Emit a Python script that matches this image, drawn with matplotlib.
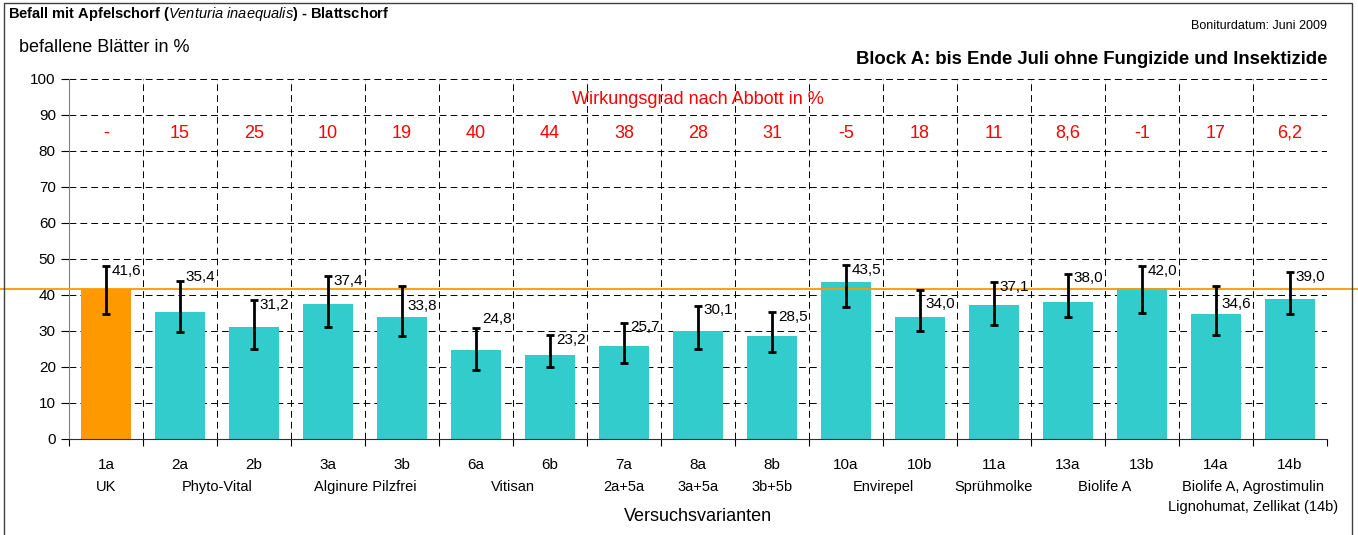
import matplotlib
matplotlib.use("Agg")
import matplotlib.pyplot as plt
from matplotlib.patches import Rectangle
import numpy as np

variants = ['1a', '2a', '2b', '3a', '3b', '6a', '6b', '7a', '8a', '8b',
            '10a', '10b', '11a', '13a', '13b', '14a', '14b']
befall = [41.6, 35.4, 31.2, 37.4, 33.8, 24.8, 23.2, 25.7, 30.1, 28.5,
          43.5, 34.0, 37.1, 38.0, 42.0, 34.6, 39.0]
err_hi = [48.1, 44.0, 38.6, 45.2, 42.5, 30.9, 28.8, 32.3, 37.0, 35.2,
          48.3, 41.3, 43.6, 45.9, 48.0, 42.6, 46.4]
err_lo = [34.7, 29.6, 25.0, 31.1, 28.5, 19.1, 20.0, 21.1, 25.0, 24.2,
          36.6, 30.0, 31.8, 33.8, 35.1, 28.8, 34.7]
abbott = ['-', '15', '25', '10', '19', '40', '44', '38', '28', '31',
          '-5', '18', '11', '8,6', '-1', '17', '6,2']
# product name, first and last variant it belongs to
products = [('UK', '1a', '1a'), ('Phyto-Vital', '2a', '2b'),
            ('Alginure Pilzfrei', '3a', '3b'), ('Vitisan', '6a', '6b'),
            ('2a+5a', '7a', '7a'), ('3a+5a', '8a', '8a'), ('3b+5b', '8b', '8b'),
            ('Envirepel', '10a', '10b'), ('Sprühmolke', '11a', '11a'),
            ('Biolife A', '13a', '13b'),
            ('Biolife A, Agrostimulin\nLignohumat, Zellikat (14b)', '14a', '14b')]
# labels moved off the error bar in the original
label_nudge = {'3b': -4.2, '14a': -3.9, '10b': -2.6, '6a': 3.8, '2a': 2.4}

plt.rcParams['font.family'] = ['Liberation Sans', 'DejaVu Sans']
plt.rcParams['mathtext.fontset'] = 'custom'
plt.rcParams['mathtext.it'] = 'Liberation Sans:italic'
plt.rcParams['mathtext.rm'] = 'Liberation Sans:bold'

W, H = 1358, 535
fig = plt.figure(figsize=(W / 100, H / 100), dpi=100)
ax = fig.add_axes([69 / W, 1 - 439 / H, (1327 - 69) / W, (439 - 79) / H])

x = np.arange(len(variants))
bef = np.array(befall)
colors = ['#FF9900'] + ['#33CCCC'] * (len(variants) - 1)
ax.bar(x, bef, width=0.68, color=colors, zorder=2)
ax.axhline(befall[0], xmin=-0.1, xmax=1.1, color='#FF9900', lw=1.3,
           clip_on=False, zorder=3)
ax.errorbar(x, bef, yerr=[bef - np.array(err_lo), np.array(err_hi) - bef],
            fmt='none', ecolor='black', elinewidth=2, capsize=3, capthick=2,
            zorder=4)

for i, v in enumerate(variants):
    ax.text(i + 0.08, err_hi[i] - 1.3 + label_nudge.get(v, 0),
            f'{befall[i]:.1f}'.replace('.', ','),
            fontsize=11, va='center', ha='left', zorder=5)
    ax.text(i, 85, abbott[i], color='red', fontsize=13, ha='center', va='center')

ax.text(8, 94.2, 'Wirkungsgrad nach Abbott in %', color='red', fontsize=13,
        ha='center', va='center')

for name, a, b in products:
    xc = (variants.index(a) + variants.index(b)) / 2
    ax.text(xc, -11.3, name, fontsize=10.5, ha='center', va='top',
            linespacing=1.55, clip_on=False)
ax.text(8, -21.6, 'Versuchsvarianten', fontsize=13, ha='center', va='center')

ax.set_xlim(-0.5, len(variants) - 0.5)
ax.set_ylim(0, 100)
ax.set_yticks(range(0, 101, 10))
ax.set_xticks(x, variants)
ax.set_xticks(np.arange(-0.5, len(variants), 1), minor=True)
ax.tick_params(axis='x', which='major', length=0, pad=14, labelsize=11)
ax.tick_params(axis='x', which='minor', length=5, direction='out', width=0.8)
ax.tick_params(axis='y', length=6, direction='out', width=0.8, labelsize=11)
dash = (0, (7, 4.2))
ax.grid(axis='x', which='minor', ls=dash, color='black', lw=0.7)
ax.grid(axis='y', which='major', ls=dash, color='black', lw=0.7)
ax.set_axisbelow(True)
for s in ['top', 'right']:
    ax.spines[s].set_visible(False)
ax.spines['left'].set_color('#808080')
ax.spines['bottom'].set_color('#303030')

fig.text(8 / W, 1 - 14 / H,
         r'Befall mit Apfelschorf ($\mathit{Venturia\ inaequalis}$) - Blattschorf',
         fontsize=10.5, fontweight='bold', va='center')
fig.text(1327 / W, 1 - 26 / H, 'Boniturdatum: Juni 2009', fontsize=9,
         ha='right', va='center')
fig.text(19 / W, 1 - 48 / H, 'befallene Blätter in %', fontsize=13, va='center')
fig.text(1327 / W, 1 - 60 / H, 'Block A: bis Ende Juli ohne Fungizide und Insektizide',
         fontsize=13.3, fontweight='bold', ha='right', va='center')

fig.patches.append(Rectangle((4 / W, -0.01), (1352 - 4) / W, 1 - 3 / H + 0.01,
                             transform=fig.transFigure, fill=False,
                             edgecolor='#404040', lw=1))

fig.savefig('out.png', dpi=100)
